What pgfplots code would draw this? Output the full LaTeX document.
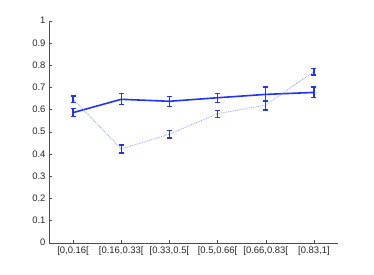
\documentclass[border=0pt]{standalone}
\usepackage{pgfplots}
\pgfplotsset{compat=1.18}
\usepackage{fontspec}
\setmainfont{Liberation Sans}
\definecolor{mblue}{rgb}{0.12,0.2,1}
\begin{document}
\begin{tikzpicture}
\begin{axis}[
  name=ax,
  scale only axis,
  width=289bp, height=222bp,
  xmin=0.5, xmax=6.5, ymin=0, ymax=1,
  axis x line=bottom, axis y line=left,
  axis line style={-, black!70, line width=0.4pt},
  tick align=inside,
  major tick length=3bp,
  tick style={black!70, line width=0.4pt},
  xtick={1,2,3,4,5,6},
  xticklabels={{[0,0.16[},{[0.16,0.33[},{[0.33,0.5[},{[0.5,0.66[},{[0.66,0.83[},{[0.83,1]}},
  ytick={0,0.1,0.2,0.3,0.4,0.5,0.6,0.7,0.8,0.9,1},
  yticklabels={0,0.1,0.2,0.3,0.4,0.5,0.6,0.7,0.8,0.9,1},
  ticklabel style={font=\fontsize{9.5}{10}\selectfont, text=black!85},
  /pgf/number format/assume math mode=true,
  unbounded coords=jump,
  clip=false,
]
% solid series: means
\addplot[mblue, line width=1.6pt, mark=none] coordinates {
  (1,0.586) (2,0.646) (3,0.637) (4,0.653) (5,0.668) (6,0.677)
};
% dotted series: means
\addplot[mblue!50, line width=0.8pt, dash pattern=on 0.8pt off 1pt, mark=none] coordinates {
  (1,0.647) (2,0.422) (3,0.489) (4,0.581) (5,0.620) (6,0.771)
};
% solid series: error bars (lower, upper)
\addplot[draw=mblue, line width=1.4pt, mark=-, mark size=2.5bp, mark options={solid, draw=mblue, fill=mblue, line width=1.3pt}] coordinates {
  (1,0.569) (1,0.603) (1,nan)
  (2,0.621) (2,0.671) (2,nan)
  (3,0.615) (3,0.659) (3,nan)
  (4,0.633) (4,0.673) (4,nan)
  (5,0.635) (5,0.701) (5,nan)
  (6,0.653) (6,0.701)
};
% dotted series: error bars (lower, upper)
\addplot[draw=mblue, line width=1.4pt, mark=-, mark size=2.5bp, mark options={solid, draw=mblue, fill=mblue, line width=1.3pt}] coordinates {
  (1,0.633) (1,0.661) (1,nan)
  (2,0.404) (2,0.440) (2,nan)
  (3,0.472) (3,0.506) (3,nan)
  (4,0.565) (4,0.597) (4,nan)
  (5,0.598) (5,0.642) (5,nan)
  (6,0.756) (6,0.786)
};
\end{axis}
\path[use as bounding box] ([xshift=-49bp,yshift=-31.3bp]ax.south west) rectangle ([xshift=36bp,yshift=20.7bp]ax.north east);
\end{tikzpicture}
\end{document}
